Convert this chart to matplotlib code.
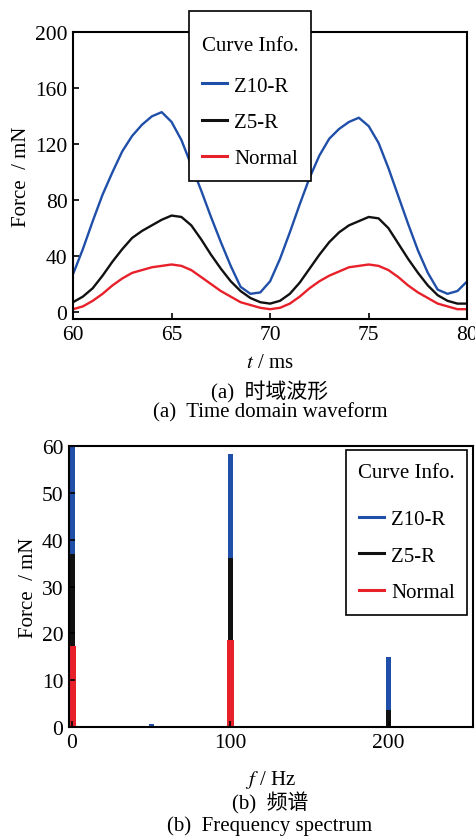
import matplotlib
matplotlib.use("Agg")
import matplotlib.pyplot as plt
import numpy as np

plt.rcParams['font.family'] = ['Liberation Serif', 'Noto Sans CJK SC', 'DejaVu Sans']
plt.rcParams['mathtext.fontset'] = 'stix'

# Datos: forma de onda en el tiempo (ms, mN)
t = np.arange(60, 80.01, 0.5)
z10_r = [27, 45, 65, 84, 100, 115, 126, 134, 140, 143, 136, 123, 105, 87, 68, 50, 33, 18, 13, 14,
         22, 38, 57, 77, 96, 112, 124, 131, 136, 139, 133, 121, 103, 83, 63, 44, 28, 16, 13, 15, 22]
z5_r = [7, 11, 17, 26, 36, 45, 53, 58, 62, 66, 69, 68, 62, 52, 41, 31, 22, 15, 10, 7,
        6, 8, 13, 21, 31, 41, 50, 57, 62, 65, 68, 67, 60, 49, 38, 28, 19, 12, 8, 6, 6]
normal = [2, 4, 8, 13, 19, 24, 28, 30, 32, 33, 34, 33, 30, 25, 20, 15, 11, 7, 5, 3,
          2, 3, 6, 11, 17, 22, 26, 29, 32, 33, 34, 33, 30, 25, 19, 14, 10, 6, 4, 2, 2]

# Datos: espectro (Hz, mN)
freq = [0, 50, 100, 150, 200]
spec_z10_r = [60, 0.6, 58.2, 0.2, 15]
spec_z5_r = [37, 0.3, 36.1, 0.1, 3.7]
spec_normal = [17.3, 0.1, 18.6, 0.0, 0.0]

series = ['Z10-R', 'Z5-R', 'Normal']
colores = ['#1f4fa8', '#111111', '#e8202a']

FS = 15

fig = plt.figure(figsize=(4.75, 8.37), dpi=100)


def estilo(ax):
    for s in ax.spines.values():
        s.set_linewidth(1.5)
    ax.tick_params(direction='in', labelsize=15.5, width=1.2, length=4, pad=4)


def leyenda(ax, x, y, espacio, sep, titulo='Curve Info.'):
    handles = [plt.Line2D([], [], color=c, lw=2.2) for c in colores]
    leg = ax.legend(handles, series, title=titulo, loc='upper left',
                    bbox_to_anchor=(x, y), bbox_transform=fig.transFigure,
                    fontsize=FS, title_fontsize=FS, frameon=True, fancybox=False,
                    edgecolor='black', framealpha=1, handlelength=1.2,
                    handletextpad=0.35, labelspacing=espacio, borderpad=0.6,
                    borderaxespad=0)
    leg.get_frame().set_linewidth(1.2)
    leg._legend_box.sep = sep
    return leg


# (a) forma de onda
ax1 = fig.add_axes([0.1537, 0.6177, 0.830, 0.3423])
for y, nombre, c in zip([z10_r, z5_r, normal], series, colores):
    ax1.plot(t, y, color=c, lw=1.7, label=nombre)
ax1.set_xlim(60, 80)
ax1.set_ylim(-5, 200)
ax1.set_xticks([60, 65, 70, 75, 80])
ax1.set_yticks([0, 40, 80, 120, 160, 200])
estilo(ax1)
ax1.set_ylabel('Force  / mN', fontsize=FS, labelpad=3)
ax1.set_xlabel('$t$ / ms', fontsize=FS, labelpad=7)
# línea vacía sobre el título para dejar más margen arriba
leg1 = leyenda(ax1, 0.398, 0.9857, 0.8, 15, titulo='\nCurve Info.')
leg1.get_title().set_linespacing(0.55)

fig.text(0.568, 1 - 392 / 837, '(a)  时域波形', ha='center', va='center', fontsize=FS)
fig.text(0.568, 1 - 413 / 837, '(a)  Time domain waveform', ha='center', va='center', fontsize=FS)

# (b) espectro
ax2 = fig.add_axes([0.145, 0.130, 0.850, 0.336])
anchos = [3.2, 3.2, 4.6]
for y, nombre, c, w in zip([spec_z10_r, spec_z5_r, spec_normal], series, colores, anchos):
    ax2.bar(freq, y, width=w, color=c, label=nombre, linewidth=0)
ax2.set_xlim(-2, 253)
ax2.set_ylim(0, 60)
ax2.set_xticks([0, 100, 200])
ax2.set_yticks([0, 10, 20, 30, 40, 50, 60])
estilo(ax2)
ax2.set_ylabel('Force  / mN', fontsize=FS, labelpad=3)
ax2.set_xlabel('$f$ / Hz', fontsize=FS, labelpad=12)
leyenda(ax2, 0.728, 0.461, 0.82, 20)

fig.text(0.568, 1 - 803 / 837, '(b)  频谱', ha='center', va='center', fontsize=FS)
fig.text(0.568, 1 - 826 / 837, '(b)  Frequency spectrum', ha='center', va='center', fontsize=FS)

fig.savefig('out.png', dpi=100)
